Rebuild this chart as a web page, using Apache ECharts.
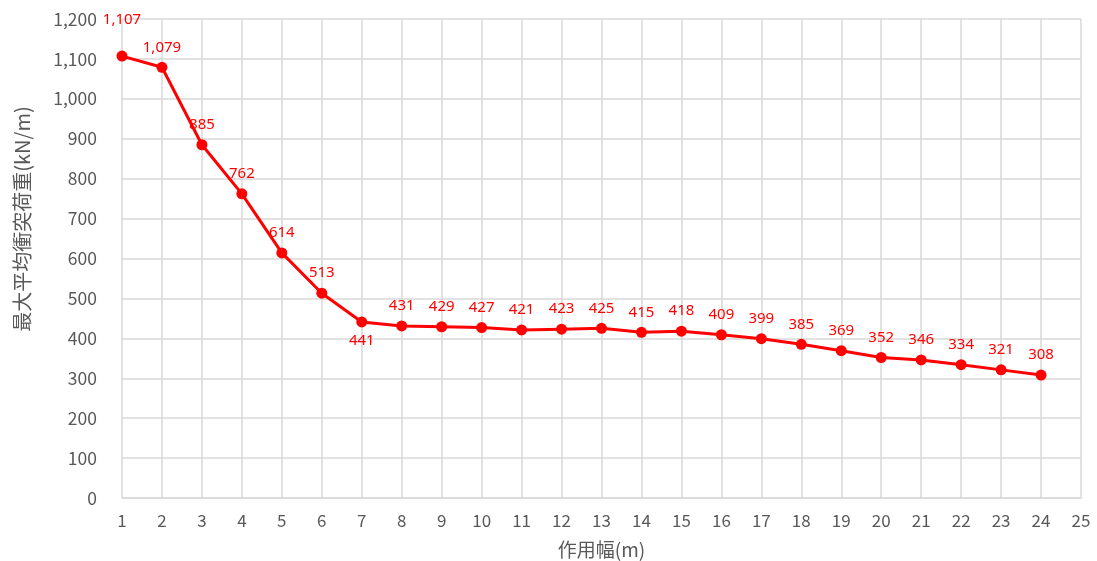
<!DOCTYPE html>
<html><head><meta charset="utf-8">
<script src="https://cdn.jsdelivr.net/npm/echarts@6/dist/echarts.min.js"></script>
<style>html,body{margin:0;padding:0;background:#fff}#c{width:1097px;height:561px}</style>
</head><body><div id="c"></div>
<script>
const widths = [1,2,3,4,5,6,7,8,9,10,11,12,13,14,15,16,17,18,19,20,21,22,23,24];
const loads = [1107,1079,885,762,614,513,441,431,429,427,421,423,425,415,418,409,399,385,369,352,346,334,321,308];
const xTitle = '作用幅(m)';
const yTitle = '最大平均衝突荷重(kN/m)';

const fontFam = '"Noto Sans CJK JP", "Noto Sans", sans-serif';
const data = widths.map((w, i) => {
  const item = { value: [w, loads[i]] };
  if (i === 0) {
    item.label = { offset: [0, -16] };
  } else if (i === 6) {
    item.label = { position: 'bottom', distance: 6 };
  }
  return item;
});

const chart = echarts.init(document.getElementById('c'));
chart.setOption({
  animation: false,
  grid: { left: 122, right: 16, top: 19, bottom: 63, containLabel: false, outerBoundsMode: 'none' },
  graphic: [{
    type: 'text', x: 22, y: 219, rotation: Math.PI / 2,
    style: { text: yTitle, fill: '#595959', fontSize: 20, fontFamily: fontFam,
      align: 'center', verticalAlign: 'middle' }
  }],
  xAxis: {
    type: 'value', min: 1, max: 25, interval: 1,
    name: xTitle, nameLocation: 'middle', nameGap: 42,
    nameTextStyle: { color: '#595959', fontSize: 19, fontFamily: fontFam },
    axisLine: { show: true, lineStyle: { color: '#d9d9d9', width: 1.5 } },
    axisTick: { show: false },
    axisLabel: { color: '#595959', fontSize: 17, margin: 14, fontFamily: fontFam },
    splitLine: { show: true, lineStyle: { color: '#d9d9d9', width: 1.5 } }
  },
  yAxis: {
    type: 'value', min: 0, max: 1200, interval: 100,
    axisLine: { show: false },
    axisTick: { show: false },
    axisLabel: { color: '#595959', fontSize: 17.5, margin: 25,
      fontFamily: fontFam,
      formatter: v => v.toLocaleString('en-US') },
    splitLine: { show: true, lineStyle: { color: '#d9d9d9', width: 1.5 } }
  },
  series: [{
    type: 'line',
    data: data,
    symbol: 'circle', symbolSize: 11,
    lineStyle: { color: '#ff0000', width: 3 },
    itemStyle: { color: '#ff0000' },
    label: {
      show: true, position: 'top', distance: 7,
      color: '#ff0000', fontSize: 15, fontFamily: '"Noto Sans", sans-serif',
      formatter: p => p.value[1].toLocaleString('en-US')
    }
  }]
});
</script></body></html>
